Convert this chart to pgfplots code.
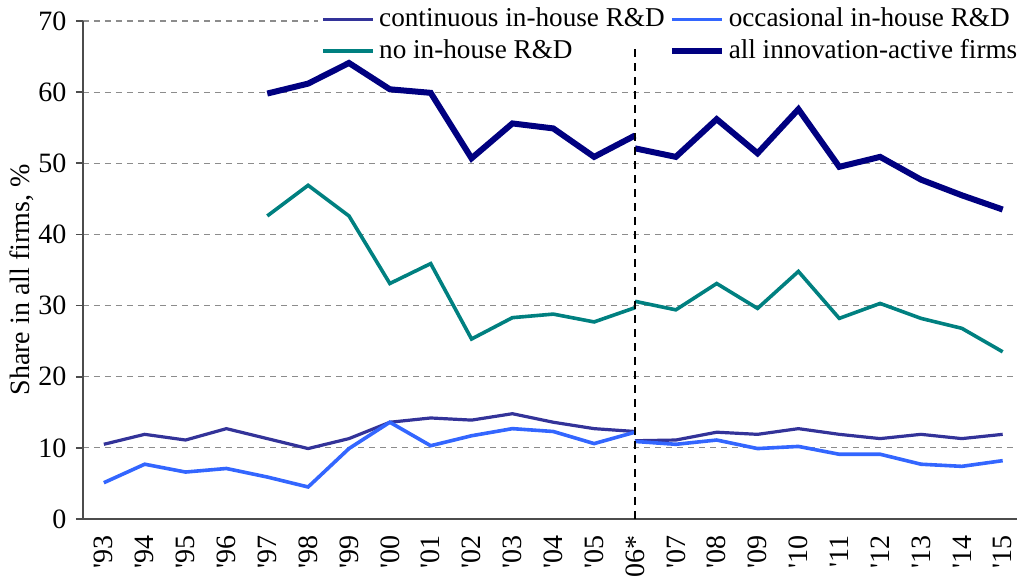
\documentclass[border=0pt]{standalone}
\usepackage{fontspec}
\setmainfont{Liberation Serif}
\usepackage{pgfplots}
\pgfplotsset{compat=1.18}
\definecolor{contc}{HTML}{333399}
\definecolor{occc}{HTML}{3366FF}
\definecolor{noc}{HTML}{008080}
\definecolor{allc}{HTML}{000080}
\newcommand{\q}{\textquotesingle}
\newcommand{\chartfont}{\fontsize{14}{17}\selectfont}
\newcommand{\legfont}{\fontsize{13.6}{17}\selectfont}
\begin{document}
\chartfont
\begin{tikzpicture}
\begin{axis}[
  at={(41.5pt,29.5pt)}, anchor=south west,
  scale only axis, width=467pt, height=249pt,
  xmin=-0.51, xmax=22.35, ymin=0, ymax=70,
  clip=false,
  axis x line*=bottom, axis y line*=left,
  axis line style={draw=black!70, line width=0.8pt},
  xtick={0,...,22},
  xticklabels={\q93,\q94,\q95,\q96,\q97,\q98,\q99,\q00,\q01,\q02,\q03,\q04,\q05,\q06*,\q07,\q08,\q09,\q10,\q11,\q12,\q13,\q14,\q15},
  xticklabel style={rotate=90, anchor=east, font=\chartfont},
  yticklabel style={font=\chartfont},
  major x tick style={draw=none},
  ytick={0,10,...,70},
  tick align=outside, major tick length=3.5pt,
  y tick style={draw=black!70, line width=0.8pt},
  /pgf/number format/assume math mode=true,
  ymajorgrids,
  y grid style={black!45, dash pattern=on 3pt off 2.5pt, line width=0.6pt},
  ylabel={Share in all firms, \%},
  ylabel style={at={(axis description cs:-0.066,0.48)}, anchor=center, font=\chartfont},
  unbounded coords=jump,
  legend columns=2,
  legend cell align=left,
  legend style={at={(axis description cs:0.255,1.035)}, anchor=north west, draw=none, fill=none,
    font=\legfont, row sep=0pt, inner sep=0pt,
    /tikz/every even column/.append style={column sep=0pt}},
  legend image code/.code={\draw[#1] (0pt,0pt) -- (25pt,0pt);},
]
\fill[white] (rel axis cs:0.252,0.99) rectangle (rel axis cs:1,1.01);
\addplot[contc, line width=1.6pt] coordinates {
(0,10.5)(1,11.9)(2,11.1)(3,12.7)(4,11.3)(5,9.9)(6,11.3)(7,13.6)(8,14.2)(9,13.9)(10,14.8)(11,13.6)(12,12.7)(13,12.3)
(13,nan)
(13,11.0)(14,11.1)(15,12.2)(16,11.9)(17,12.7)(18,11.9)(19,11.3)(20,11.9)(21,11.3)(22,11.9)};
\addlegendentry{continuous in-house R\&D}
\addplot[occc, line width=1.8pt] coordinates {
(0,5.1)(1,7.7)(2,6.6)(3,7.1)(4,5.9)(5,4.5)(6,9.9)(7,13.6)(8,10.3)(9,11.7)(10,12.7)(11,12.3)(12,10.6)(13,12.2)
(13,nan)
(13,10.9)(14,10.5)(15,11.1)(16,9.9)(17,10.2)(18,9.1)(19,9.1)(20,7.7)(21,7.4)(22,8.2)};
\addlegendentry{occasional in-house R\&D}
\addplot[noc, line width=1.8pt] coordinates {
(4,42.6)(5,46.9)(6,42.6)(7,33.1)(8,35.9)(9,25.3)(10,28.3)(11,28.8)(12,27.7)(13,29.7)
(13,nan)
(13,30.6)(14,29.4)(15,33.1)(16,29.6)(17,34.8)(18,28.2)(19,30.3)(20,28.2)(21,26.8)(22,23.5)};
\addlegendentry{no in-house R\&D}
\addplot[allc, line width=3pt] coordinates {
(4,59.8)(5,61.2)(6,64.1)(7,60.4)(8,59.9)(9,50.7)(10,55.6)(11,54.9)(12,50.9)(13,53.9)
(13,nan)
(13,52.1)(14,50.9)(15,56.2)(16,51.4)(17,57.6)(18,49.5)(19,50.9)(20,47.7)(21,45.5)(22,43.5)};
\addlegendentry{all innovation-active firms}
\draw[black, line width=1pt, dash pattern=on 4pt off 3pt] (axis cs:13,0) -- (axis cs:13,66.6);
\end{axis}
\pgfresetboundingbox
\path (0,0) rectangle (509.5pt,289pt);
\end{tikzpicture}
\end{document}
